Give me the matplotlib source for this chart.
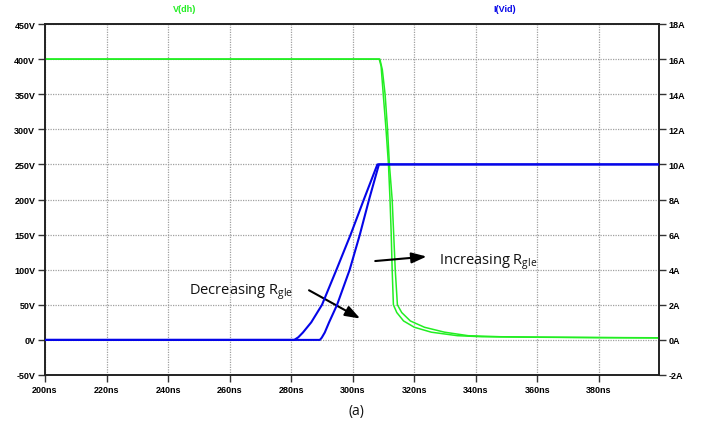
import matplotlib
matplotlib.use("Agg")
import matplotlib.pyplot as plt
from matplotlib.ticker import FuncFormatter
from matplotlib.font_manager import FontProperties

# ---- data ----
# Current I(Vid), two curves (A), time in ns
i1_t = [200, 281.0, 282.3, 283.8, 286.5, 290.0, 294.7, 299.3, 303.6, 308.0, 399.5]
i1_a = [0, 0, 0.15, 0.42, 1.0, 2.0, 4.0, 6.0, 8.0, 10.0, 10.0]
i2_t = [200, 289.3, 289.9, 290.9, 292.3, 294.9, 299.0, 302.3, 305.3, 308.5, 399.5]
i2_a = [0, 0, 0.12, 0.42, 1.0, 2.0, 4.0, 6.0, 8.0, 10.0, 10.0]
# Voltage V(dh), two curves (V)
v1_t = [200, 308.6, 309.2, 309.9, 310.8, 311.6, 312.1, 312.5, 312.8, 313.2, 314.3, 316.5,
        320.0, 325.5, 334.0, 342.0, 360.0, 380.0, 399.5]
v1_v = [400, 400, 390, 350, 300, 250, 200, 150, 100, 50, 39, 27,
        18, 11, 6, 4.5, 3.8, 3.2, 2.8]
v2_t = [200, 308.8, 309.6, 310.5, 311.3, 311.9, 312.8, 313.3, 313.8, 314.5, 315.9, 318.7,
        323.3, 329.8, 337.5, 348.0, 360.0, 380.0, 399.5]
v2_v = [400, 400, 385, 350, 300, 250, 200, 150, 100, 50, 39, 27,
        18, 11, 6, 4.5, 4.0, 3.4, 3.0]

v_ticks = list(range(-50, 451, 50))
a_ticks = list(range(-2, 19, 2))
t_ticks = list(range(200, 381, 20))

GREEN = "#22ee22"
BLUE = "#0505e8"

fig = plt.figure(figsize=(7.11, 4.31), dpi=100)
ax = fig.add_axes([45/711, 1-376/431, (659-45)/711, (376-25)/431])
ax2 = ax.twinx()

tick_font = dict(family="Liberation Sans", weight="bold", size=6.5)

ax.plot(v1_t, v1_v, color=GREEN, lw=1.1, zorder=3)
ax.plot(v2_t, v2_v, color=GREEN, lw=1.1, zorder=3)
ax2.plot(i1_t, i1_a, color=BLUE, lw=1.5, zorder=4)
ax2.plot(i2_t, i2_a, color=BLUE, lw=1.5, zorder=4)

ax.set_xlim(200, 399.5)
ax.set_ylim(-50, 450)
ax2.set_ylim(-2, 18)
ax.set_xticks(t_ticks)
ax.set_yticks(v_ticks)
ax2.set_yticks(a_ticks)
ax.xaxis.set_major_formatter(FuncFormatter(lambda v, p: f"{int(v)}ns"))
ax.yaxis.set_major_formatter(FuncFormatter(lambda v, p: f"{int(v)}V"))
ax2.yaxis.set_major_formatter(FuncFormatter(lambda v, p: f"{int(v)}A"))

fp = FontProperties(**tick_font)
for a in (ax, ax2):
    for lab in a.get_xticklabels() + a.get_yticklabels():
        lab.set_fontproperties(fp)
    a.tick_params(direction="out", length=5, width=1, color="#333333", pad=2)
    for s in a.spines.values():
        s.set_color("#222222")
        s.set_linewidth(1.2)

ax.grid(True, color="#a0a0a0", linestyle=(0, (1, 1)), linewidth=0.9)

fig.text(185/711, 1-9/431, "V(dh)", color=GREEN, ha="center", va="center", **tick_font)
fig.text(505/711, 1-9/431, "I(Vid)", color=BLUE, ha="center", va="center", **tick_font)

ann_font = dict(family="Open Sans", size=10.5, color="#111111")
ax.text(246.7, 67, r"Decreasing R$_{\mathregular{gle}}$", ha="left", va="baseline", **ann_font)
ax.annotate("", xy=(303.2, 28.5), xytext=(285.0, 72.6),
            arrowprops=dict(arrowstyle="-|>,head_length=0.9,head_width=0.32", color="black", lw=1.5))
ax.text(328.1, 109.7, r"Increasing R$_{\mathregular{gle}}$", ha="left", va="baseline", **ann_font)
ax.annotate("", xy=(324.9, 119.1), xytext=(306.4, 112),
            arrowprops=dict(arrowstyle="-|>,head_length=0.9,head_width=0.32", color="black", lw=1.5))

fig.text(356/711, 1-412/431, "(a)", ha="center", va="center", family="Open Sans", size=10, color="#111111")

fig.savefig("out.png", dpi=100)
